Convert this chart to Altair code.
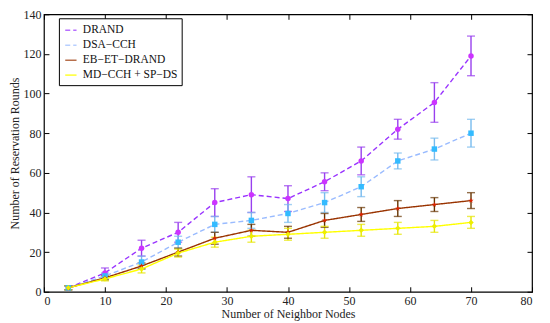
import altair as alt
import pandas as pd

nodes = [4, 10, 16, 22, 28, 34, 40, 46, 52, 58, 64, 70]
series_names = ["DRAND", "DSA\u2212CCH", "EB\u2212ET\u2212DRAND", "MD\u2212CCH + SP\u2212DS"]

drand = [2, 9.5, 22, 30, 45, 49, 47, 55.5, 66, 82, 95.5, 119]
drand_err = [1, 2.5, 4, 5, 7, 9, 6.5, 4.5, 7, 5, 10, 10]
dsa = [2, 8, 15, 25, 34, 36, 39.5, 45, 53, 66, 72, 80]
dsa_err = [1, 1.5, 3, 3, 4, 4, 4.5, 5, 5, 4, 5.5, 7]
ebet = [2, 7, 13, 20, 27, 31, 30, 36, 39, 42, 44, 46]
ebet_err = [1, 1, 1.5, 2, 3, 3, 3, 3.5, 3.5, 4, 3.5, 4]
mdcch = [2, 6.5, 11.5, 19.5, 25, 28, 29, 30, 31, 32, 33, 35]
mdcch_err = [1, 1, 2, 2, 2.5, 3, 3, 3, 3, 3, 3, 3]

values = [drand, dsa, ebet, mdcch]
errors = [drand_err, dsa_err, ebet_err, mdcch_err]

STAR = "M0,-1L0.24,-0.33L0.95,-0.31L0.38,0.12L0.59,0.81L0,0.4L-0.59,0.81L-0.38,0.12L-0.95,-0.31L-0.24,-0.33Z"

line_colors = ["#9933ff", "#99bbff", "#993300", "#ffff00"]
marker_colors = ["#cc33ff", "#33bbff", "#dd2200", "#eeee00"]
err_colors = ["#9940ee", "#77bbee", "#663300", "#e6e600"]
shapes = ["circle", "square", STAR, "diamond"]
dashes = [[5, 3], [5, 3], [1, 0], [1, 0]]

rows = []
for i, name in enumerate(series_names):
    for x, v, e in zip(nodes, values[i], errors[i]):
        rows.append({"x": x, "y": v, "lo": v - e, "hi": v + e, "series": name,
                     "order": i, "mcol": marker_colors[i], "ecol": err_colors[i], "shp": shapes[i]})
df = pd.DataFrame(rows)

font = "Liberation Serif"
xs = alt.Scale(domain=[0, 80])
ys = alt.Scale(domain=[0, 140])

base = alt.Chart(df)

ax_common = dict(grid=False, domain=False, tickSize=5, offset=-5, tickColor="black",
                 labelFont=font, titleFont=font)

lines = base.mark_line(strokeWidth=1.4).encode(
    x=alt.X("x:Q", scale=xs, axis=alt.Axis(values=list(range(0, 81, 10)), title="Number of Neighbor Nodes",
                                          labelPadding=4, titlePadding=2, **ax_common)),
    y=alt.Y("y:Q", scale=ys, axis=alt.Axis(values=list(range(0, 141, 20)), title="Number of Reservation Rounds",
                                          labelPadding=3, titlePadding=1, **ax_common)),
    color=alt.Color("series:N", scale=alt.Scale(domain=series_names, range=line_colors),
                    legend=alt.Legend(title=None, orient="none", legendX=15, legendY=4,
                                      symbolType="M-0.8,0L0.8,0", symbolSize=200, symbolStrokeWidth=1.6,
                                      rowPadding=1, padding=4, strokeColor="black", fillColor="white",
                                      labelOffset=4, labelFont=font)),
    strokeDash=alt.StrokeDash("series:N", scale=alt.Scale(domain=series_names, range=dashes), legend=None),
    order="order:Q",
)

top_right = dict(grid=False, domain=False, tickSize=5, offset=-5, tickColor="black", labels=False, title=None)

err = base.mark_rule(strokeWidth=1.4).encode(
    x=alt.X("x:Q", scale=xs, axis=alt.Axis(orient="top", values=list(range(0, 81, 10)), **top_right)),
    y=alt.Y("lo:Q", scale=ys, axis=alt.Axis(orient="right", values=list(range(0, 141, 20)), **top_right)),
    y2="hi:Q",
    color=alt.Color("ecol:N", scale=None),
)

cap_lo = base.mark_tick(orient="horizontal", size=8, thickness=1.4).encode(
    x=alt.X("x:Q", scale=xs, axis=None),
    y=alt.Y("lo:Q", scale=ys, axis=None),
    color=alt.Color("ecol:N", scale=None),
)
cap_hi = base.mark_tick(orient="horizontal", size=8, thickness=1.4).encode(
    x=alt.X("x:Q", scale=xs, axis=None),
    y=alt.Y("hi:Q", scale=ys, axis=None),
    color=alt.Color("ecol:N", scale=None),
)

pts = base.mark_point(filled=True, size=30, opacity=1).encode(
    x=alt.X("x:Q", scale=xs, axis=None),
    y=alt.Y("y:Q", scale=ys, axis=None),
    shape=alt.Shape("shp:N", scale=None),
    fill=alt.Fill("mcol:N", scale=None),
)

chart = alt.layer(err, cap_lo, cap_hi, lines, pts).resolve_axis(x="independent", y="independent").properties(
    width=489, height=278,
    autosize=alt.AutoSizeParams(type="none"),
    padding={"left": 36, "top": 6, "right": 10, "bottom": 30},
    background="white",
).configure(font=font).configure_view(stroke="black", strokeWidth=1.2).configure_axis(
    labelFont=font, labelFontSize=12, labelColor="#222", titleFont=font,
    titleFontSize=12, titleFontWeight="normal", titleColor="#222",
).configure_legend(labelFont=font, labelFontSize=11.5, labelColor="#111")

chart.save("out.html", embed_options={"renderer": "svg", "actions": False})
